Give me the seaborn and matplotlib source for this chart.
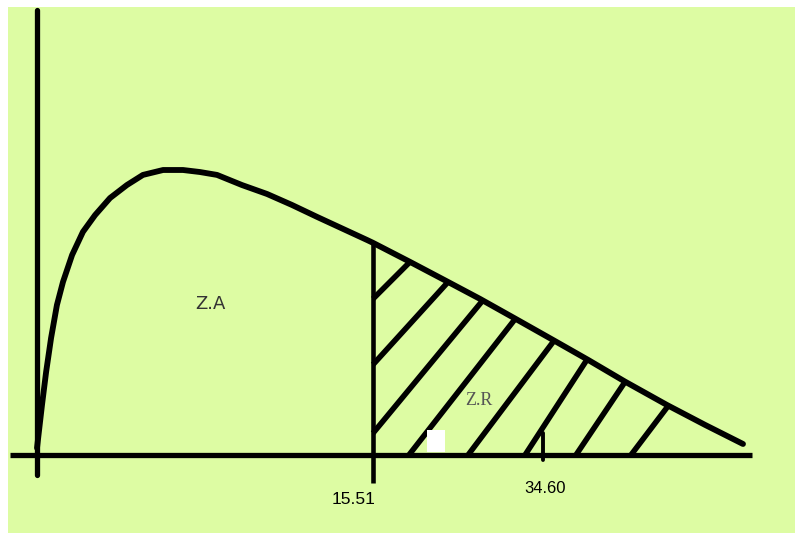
import numpy as np
import pandas as pd
import matplotlib
matplotlib.use('Agg')
import matplotlib.pyplot as plt
import seaborn as sns

# Curva tipo chi-cuadrado (esquema)
curva_x = [0.00, 0.23, 0.42, 0.65, 0.92, 1.20, 1.62, 2.12, 2.68, 3.37, 4.15, 4.89,
           5.82, 6.74, 7.52, 8.31, 9.46, 10.62, 11.77, 12.92, 15.23, 15.51, 17.22,
           18.84, 20.45, 22.07, 23.82, 25.44, 27.14, 29.08, 30.84, 32.59]
curva_y = [0.0024, 0.0173, 0.0287, 0.0405, 0.0519, 0.0599, 0.0692, 0.0772, 0.0830,
           0.0889, 0.0934, 0.0969, 0.0986, 0.0986, 0.0979, 0.0969, 0.0934, 0.0903,
           0.0865, 0.0824, 0.0744, 0.0734, 0.0668, 0.0604, 0.0540, 0.0472, 0.0398,
           0.0329, 0.0254, 0.0173, 0.0104, 0.0038]

valor_critico = 15.51
etiqueta_critico = '15.51'
pos_estadistico = 23.36          # donde cae la marca del estadistico en el esquema
etiqueta_estadistico = '34.60'

# rayado de la zona de rechazo: pie de cada raya sobre el eje y su pendiente
rayas_pie = [8.31, 11.72, 14.68, 17.17, 19.90, 22.53, 24.88, 27.42]
rayas_pendiente = [0.0075, 0.00825, 0.00907, 0.0096, 0.00997, 0.01154, 0.01117, 0.0099]

verde = '#ddfca3'

sns.set_theme(style='white')
plt.rcParams['font.family'] = ['DejaVu Sans']

fig = plt.figure(figsize=(7.95, 5.35), dpi=100, facecolor='white')
ax = fig.add_axes([8 / 795, 2 / 535, 787 / 795, 526 / 535])
ax.set_facecolor(verde)
for s in ax.spines.values():
    s.set_visible(False)
ax.set_xticks([])
ax.set_yticks([])
ax.set_xlim(-1.339, 34.99)
ax.set_ylim(-0.027, 0.155)

# ejes dibujados a mano
ax.plot([-1.25, 33.0], [0, 0], color='black', lw=3.8, solid_capstyle='butt', zorder=3)
ax.plot([0, 0], [-0.0069, 0.154], color='black', lw=3.8, solid_capstyle='round', zorder=3)

# curva
df = pd.DataFrame({'x': curva_x, 'y': curva_y})
sns.lineplot(data=df, x='x', y='y', sort=False, estimator=None, color='black',
             lw=4.2, ax=ax, zorder=4, solid_joinstyle='round', solid_capstyle='round')

# linea del valor critico
y_crit = np.interp(valor_critico, curva_x, curva_y)
ax.plot([valor_critico, valor_critico], [-0.0097, y_crit], color='black', lw=3.3,
        solid_capstyle='butt', zorder=3)

# rayas de la zona de rechazo
xs_fino = np.linspace(valor_critico, curva_x[-1], 2000)
cy_fino = np.interp(xs_fino, curva_x, curva_y)
for pie, m in zip(rayas_pie, rayas_pendiente):
    x0 = max(pie, valor_critico)
    ly = m * (xs_fino - pie)
    dentro = (xs_fino >= x0) & (ly >= cy_fino)
    x1 = xs_fino[np.argmax(dentro)]
    ax.plot([x0, x1], [m * (x0 - pie), m * (x1 - pie)], color='black', lw=4.0,
            solid_capstyle='butt', zorder=3)

# marca del estadistico
ax.plot([pos_estadistico, pos_estadistico], [-0.0017, 0.0076], color='black', lw=2.8, zorder=3)

# parche blanco del original
ax.add_patch(plt.Rectangle((18.0, 0.001), 0.83, 0.0077, color='white', lw=0, zorder=5))

fuente_num = ['Liberation Sans Narrow', 'Liberation Sans', 'DejaVu Sans']
ax.text(valor_critico - 0.88, -0.0155, etiqueta_critico, ha='center', va='center',
        fontsize=12.5, family=fuente_num, color='black')
ax.text(pos_estadistico + 0.09, -0.0115, etiqueta_estadistico, ha='center', va='center',
        fontsize=12, family=fuente_num, color='black')
ax.text(7.99, 0.0522, 'Z.A', ha='center', va='center', fontsize=13, color='#333333')
ax.text(20.40, 0.0187, 'Z.R', ha='center', va='center', fontsize=13, color='#555555',
        family=['Liberation Serif', 'DejaVu Serif'])

fig.savefig('out.png', dpi=100, facecolor='white')
